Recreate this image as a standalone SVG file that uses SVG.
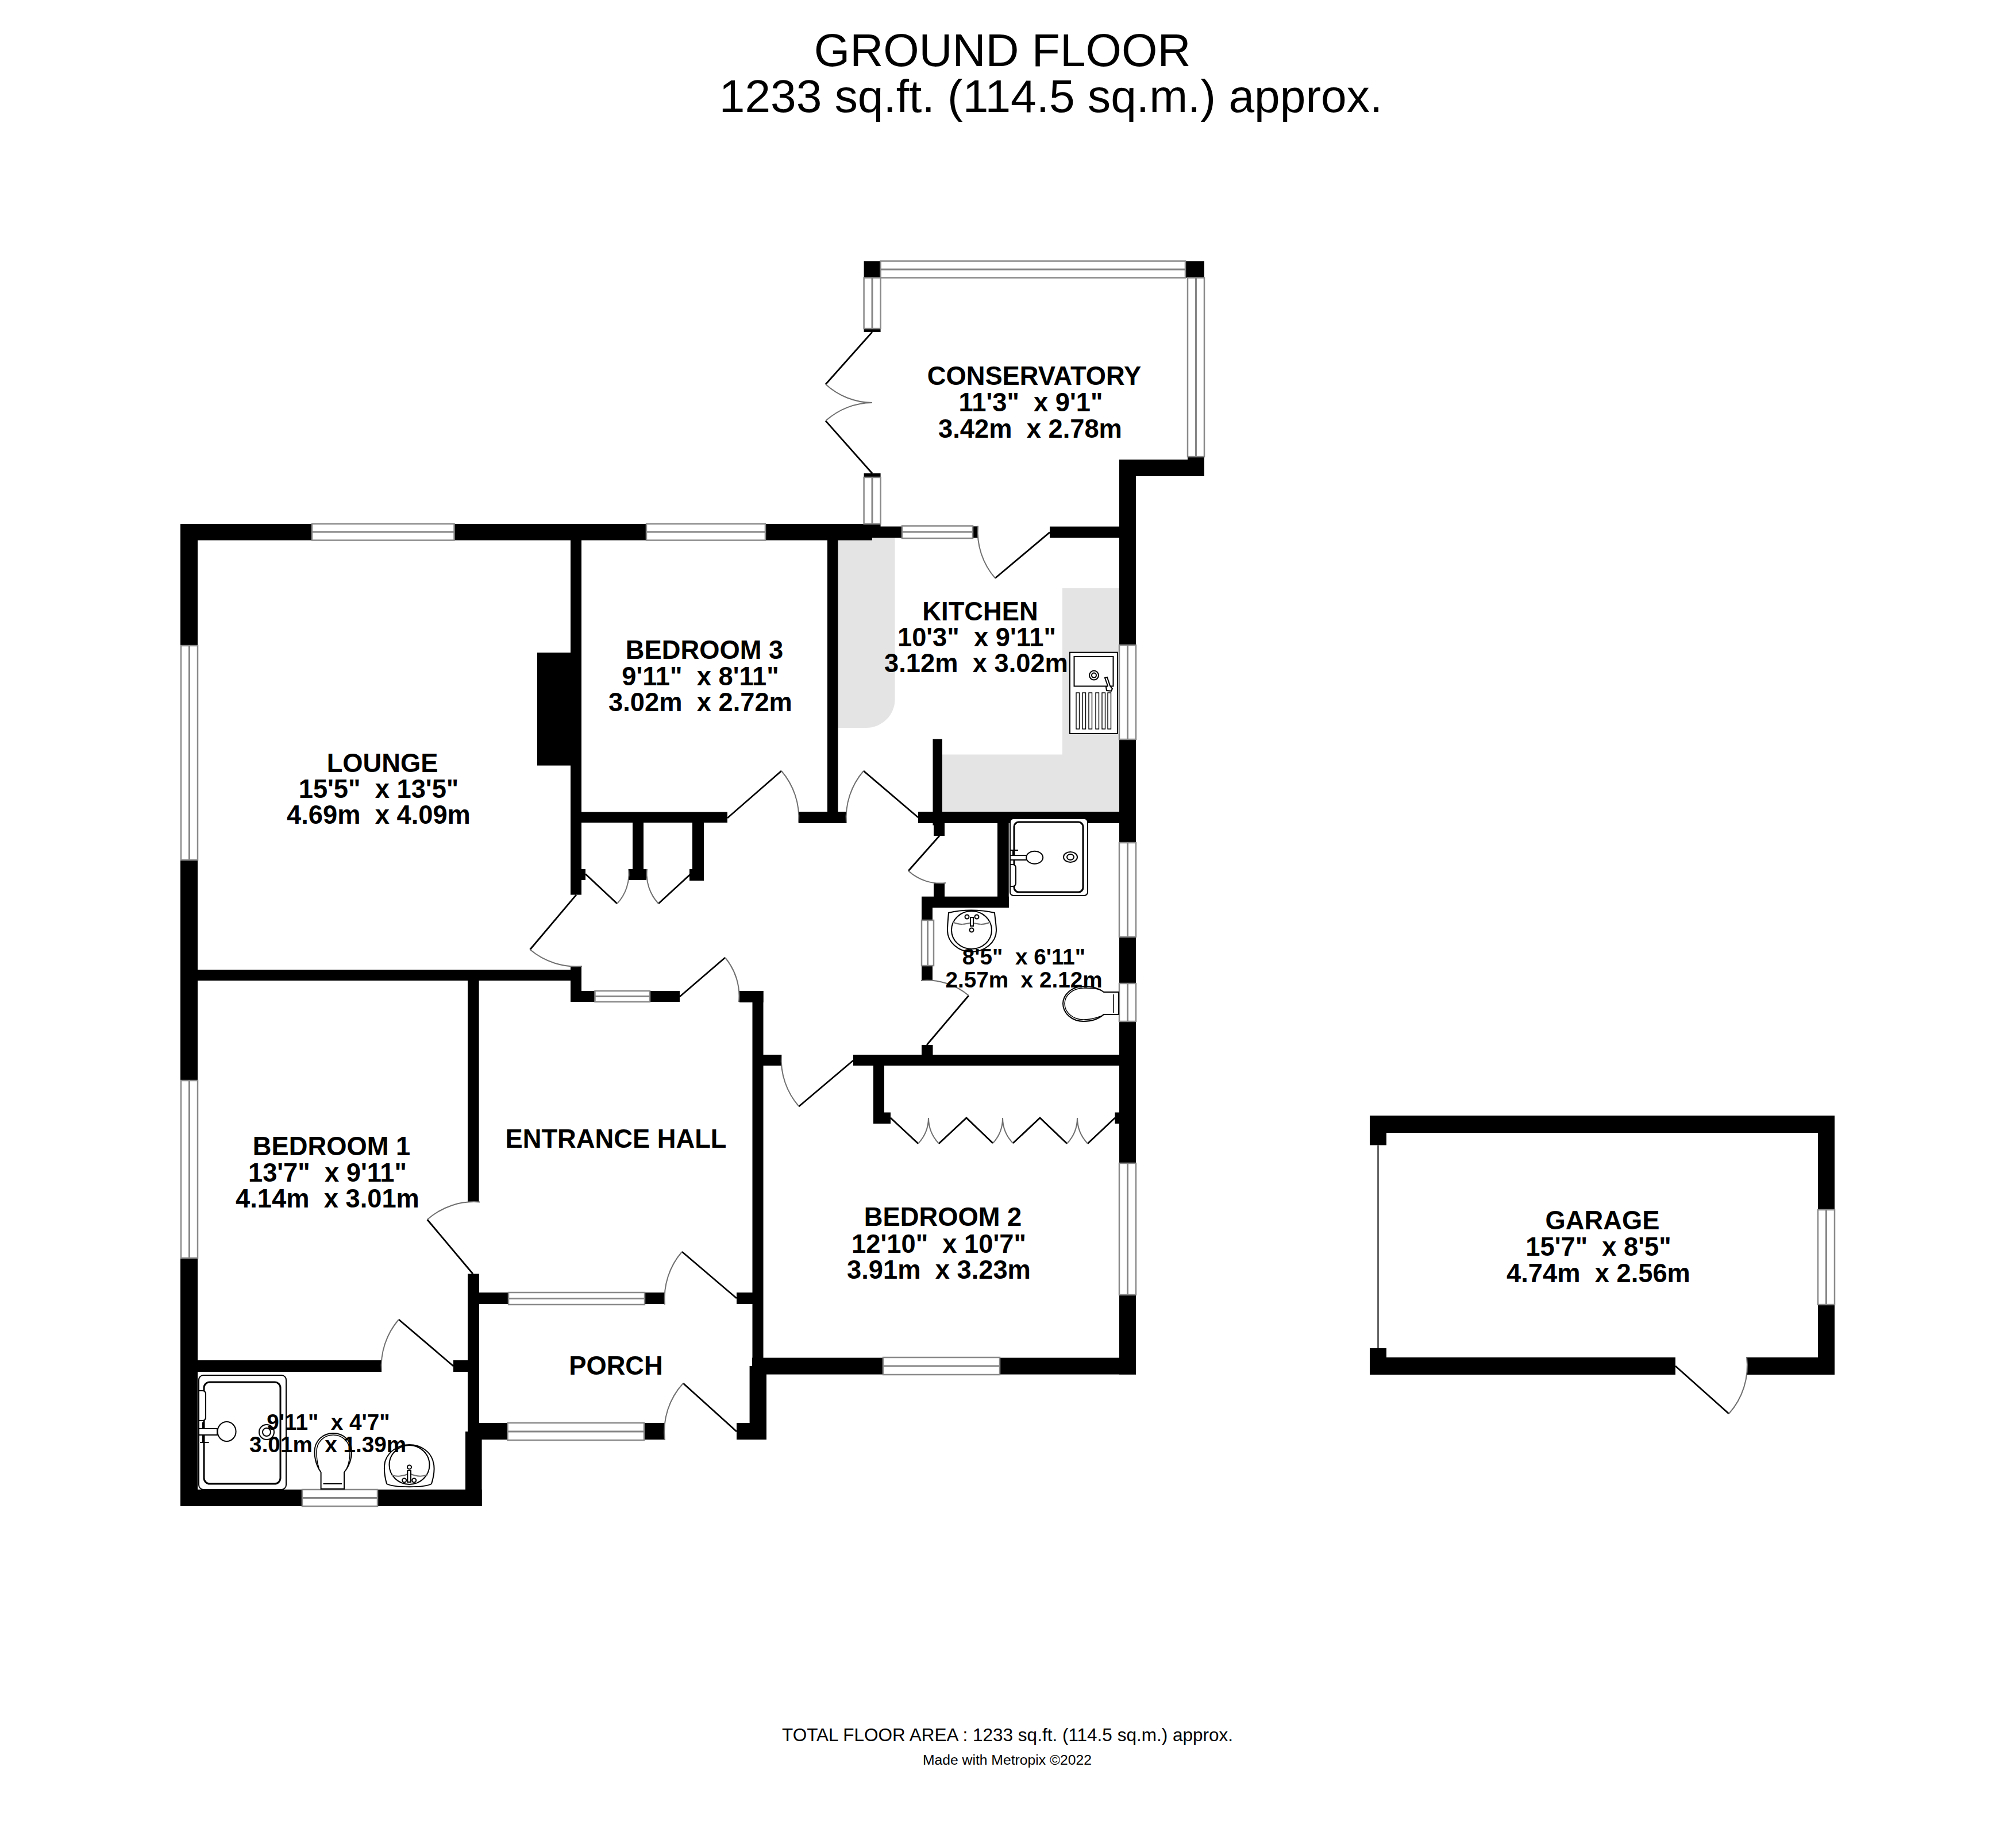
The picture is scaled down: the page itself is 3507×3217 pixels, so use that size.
<svg xmlns="http://www.w3.org/2000/svg" width="3507" height="3217" viewBox="0 0 3507 3217" xml:space="preserve">
<style>
.w{fill:#000}
.win{fill:#fff;stroke:#8a8a8a;stroke-width:2.5}
.mid{fill:none;stroke:#868686;stroke-width:3}
.leaf{fill:none;stroke:#000;stroke-width:2.8}
.arc{fill:none;stroke:#707070;stroke-width:2}
.wt{fill:#e4e4e4}
.fx{fill:#fff;stroke:#000;stroke-width:2}
.fl{fill:none;stroke:#000;stroke-width:2}
.fh{fill:#fff;stroke:#000;stroke-width:3}
text{font-family:"Liberation Sans",Arial,sans-serif;fill:#000;text-anchor:middle;white-space:pre}
.rm{font-weight:bold;font-size:45.3px}
.rs{font-weight:bold;font-size:38.7px}
.ti{font-size:80.3px}
</style>
<rect width="3507" height="3217" fill="#fff"/>
<g id="worktops">
<path class="wt" d="M1458.5,936H1557.6V1217A50,50 0 0 1 1507.6,1267H1458.5Z"/>
<path class="wt" d="M1849,1024H1948V1413H1640V1313.6H1849Z"/>
</g>
<g id="walls">
<path class="w" d="M314,912H1532.6V916.6H1702V936H1518V940.5H344V2593H838.6V2622H314Z"/>
<rect class="w" x="993" y="912" width="19" height="645.6"/>
<rect class="w" x="935" y="1136" width="58" height="196.6"/>
<rect class="w" x="314" y="1688" width="698" height="19"/>
<rect class="w" x="993" y="1682" width="19" height="62"/>
<rect class="w" x="993" y="1725" width="190" height="19"/>
<rect class="w" x="993" y="1413.5" width="273" height="18.5"/>
<rect class="w" x="1012" y="1513" width="7" height="19"/>
<rect class="w" x="1101" y="1431" width="19" height="101"/>
<rect class="w" x="1094" y="1513" width="31" height="19"/>
<rect class="w" x="1205" y="1431" width="20" height="102"/>
<rect class="w" x="1200" y="1513" width="25" height="20"/>
<rect class="w" x="1287" y="1725" width="41.500" height="20"/>
<rect class="w" x="1309.500" y="1725" width="19" height="667"/>
<rect class="w" x="1328" y="1836" width="32" height="19"/>
<rect class="w" x="1485" y="1836" width="463" height="19"/>
<rect class="w" x="1520" y="1855" width="19" height="101"/>
<rect class="w" x="1520" y="1936.500" width="30" height="19.500"/>
<rect class="w" x="1940.500" y="1936.500" width="8" height="19.500"/>
<rect class="w" x="1948" y="800" width="29" height="1592.600"/>
<rect class="w" x="1309" y="2363.600" width="668" height="29"/>
<rect class="w" x="1304.600" y="2378" width="29.400" height="128"/>
<rect class="w" x="1282" y="2477" width="52" height="29"/>
<rect class="w" x="1282" y="2250" width="46" height="20"/>
<rect class="w" x="834" y="2250" width="323" height="20"/>
<rect class="w" x="834" y="2477" width="323" height="29"/>
<rect class="w" x="814" y="1707" width="19.600" height="385.500"/>
<rect class="w" x="814" y="2217.500" width="20" height="274.500"/>
<rect class="w" x="810" y="2492" width="28.600" height="130"/>
<rect class="w" x="344" y="2368" width="320" height="20"/>
<rect class="w" x="789" y="2368" width="26" height="20"/>
<rect class="w" x="1827" y="916.600" width="121" height="19.400"/>
<rect class="w" x="1693" y="916.600" width="9" height="19.400"/>
<rect class="w" x="1948" y="800" width="148" height="29"/>
<rect class="w" x="2067" y="795" width="29" height="34"/>
<rect class="w" x="1503.600" y="454.500" width="29" height="29"/>
<rect class="w" x="2063" y="454.500" width="33" height="29"/>
<rect class="w" x="1503.600" y="572" width="29" height="6"/>
<rect class="w" x="1503.600" y="824" width="29" height="7"/>
<rect class="w" x="1440" y="936" width="18.500" height="497"/>
<rect class="w" x="1390" y="1413" width="82.600" height="20"/>
<rect class="w" x="1598" y="1413" width="350" height="20"/>
<rect class="w" x="1623.500" y="1286.600" width="16.500" height="150"/>
<rect class="w" x="1625" y="1433" width="19" height="22"/>
<rect class="w" x="1625" y="1538" width="19" height="23"/>
<rect class="w" x="1604" y="1560.700" width="151.700" height="19.300"/>
<rect class="w" x="1736" y="1432" width="19.700" height="148"/>
<rect class="w" x="1604" y="1561" width="19" height="146"/>
<rect class="w" x="1604" y="1819" width="19.500" height="17"/>
</g>
<g id="garage-walls">
<path class="w" d="M2384,1942H3193V2393H3040V2363H3164V1972H2413V1993.600H2384Z"/>
<path class="w" d="M2384,2347H2413V2363H2916V2393H2384Z"/>
</g>
<g id="windows">
<g id="win-lounge-n"><rect class="win" x="543" y="912" width="247.500" height="28.500"/><path class="mid" d="M543,926H790.500"/></g>
<g id="win-bed3-n"><rect class="win" x="1125" y="912" width="207" height="28.500"/><path class="mid" d="M1125,926H1332"/></g>
<g id="win-kitchen-n"><rect class="win" x="1570" y="915.500" width="123" height="21.500"/><path class="mid" d="M1570,926H1693"/></g>
<g id="win-hall-n"><rect class="win" x="1035.500" y="1725" width="95.500" height="19"/><path class="mid" d="M1035.500,1734.500H1131"/></g>
<g id="win-porch-n"><rect class="win" x="885" y="2250" width="237" height="21"/><path class="mid" d="M885,2260.500H1122"/></g>
<g id="win-porch-s"><rect class="win" x="883.500" y="2477" width="237.500" height="30"/><path class="mid" d="M883.500,2492H1121"/></g>
<g id="win-bath-s"><rect class="win" x="526" y="2593" width="131" height="29"/><path class="mid" d="M526,2607.500H657"/></g>
<g id="win-bed2-s"><rect class="win" x="1537" y="2363" width="203" height="30"/><path class="mid" d="M1537,2378H1740"/></g>
<g id="win-cons-n"><rect class="win" x="1532.600" y="454.500" width="530.400" height="29"/><path class="mid" d="M1532.600,469H2063"/></g>
<g id="win-lounge-w"><rect class="win" x="315" y="1124" width="29" height="373"/><path class="mid" d="M329.500,1124V1497"/></g>
<g id="win-bed1-w"><rect class="win" x="315" y="1881" width="29" height="309"/><path class="mid" d="M329.500,1881V2190"/></g>
<g id="win-cons-w1"><rect class="win" x="1503.600" y="483.500" width="29" height="88.500"/><path class="mid" d="M1518,483.500V572"/></g>
<g id="win-cons-w2"><rect class="win" x="1503.600" y="831" width="29" height="81"/><path class="mid" d="M1518,831V912"/></g>
<g id="win-cons-e"><rect class="win" x="2067" y="483.500" width="29" height="311.500"/><path class="mid" d="M2081.500,483.500V795"/></g>
<g id="win-kitchen-e"><rect class="win" x="1948" y="1123" width="29" height="164"/><path class="mid" d="M1962.500,1123V1287"/></g>
<g id="win-shower-e1"><rect class="win" x="1948" y="1467" width="29" height="164"/><path class="mid" d="M1962.500,1467V1631"/></g>
<g id="win-shower-e2"><rect class="win" x="1948" y="1712" width="29" height="66"/><path class="mid" d="M1962.500,1712V1778"/></g>
<g id="win-bed2-e"><rect class="win" x="1948" y="2025" width="29" height="229"/><path class="mid" d="M1962.500,2025V2254"/></g>
<g id="win-shower-w"><rect class="win" x="1604" y="1602" width="21" height="79"/><path class="mid" d="M1614.500,1602V1681"/></g>
<g id="win-garage-e"><rect class="win" x="3164" y="2106" width="29" height="165"/><path class="mid" d="M3178.500,2106V2271"/></g>
</g>
<g id="doors">
<g id="door-cons-1"><path class="leaf" d="M1518,578L1437,669"/><path class="arc" d="M1437,669A122,122 0 0 0 1518,701"/></g>
<g id="door-cons-2"><path class="leaf" d="M1518,824L1437,732.600"/><path class="arc" d="M1437,732.600A122,122 0 0 1 1518,701"/></g>
<g id="door-kitchen-n"><path class="leaf" d="M1827,926.600L1732,1006.500"/><path class="arc" d="M1732,1006.500A124,124 0 0 1 1702,915.500"/></g>
<g id="door-bed3"><path class="leaf" d="M1266,1424L1360,1342"/><path class="arc" d="M1360,1342A125,125 0 0 1 1390,1432"/></g>
<g id="door-kitchen-s"><path class="leaf" d="M1598,1423L1503,1342"/><path class="arc" d="M1503,1342A125,125 0 0 0 1473,1433"/></g>
<g id="door-closet-a"><path class="leaf" d="M1019,1521.500L1074,1573"/><path class="arc" d="M1074,1573A75,75 0 0 0 1094,1513"/></g>
<g id="door-closet-b"><path class="leaf" d="M1202,1521.500L1146,1573"/><path class="arc" d="M1146,1573A76,76 0 0 1 1126,1513"/></g>
<g id="door-lounge"><path class="leaf" d="M1003,1557.600L922.500,1653"/><path class="arc" d="M922.500,1653A125,125 0 0 0 1013,1682"/></g>
<g id="door-hall"><path class="leaf" d="M1183,1735L1262,1667"/><path class="arc" d="M1262,1667A104,104 0 0 1 1286,1744"/></g>
<g id="door-cupboard"><path class="leaf" d="M1635,1455L1581,1516"/><path class="arc" d="M1581,1516A82,82 0 0 0 1646,1537"/></g>
<g id="door-shower"><path class="leaf" d="M1613,1819L1686,1733"/><path class="arc" d="M1686,1733A113,113 0 0 0 1603,1707"/></g>
<g id="door-bed2"><path class="leaf" d="M1485,1846L1390.500,1926"/><path class="arc" d="M1390.500,1926A124,124 0 0 1 1360,1836"/></g>
<g id="door-bed1"><path class="leaf" d="M823,2217.500L743.600,2123"/><path class="arc" d="M743.600,2123A123,123 0 0 1 835,2092.500"/></g>
<g id="door-ensuite"><path class="leaf" d="M789,2378L694,2297"/><path class="arc" d="M694,2297A125,125 0 0 0 664,2388"/></g>
<g id="door-porch-n"><path class="leaf" d="M1282,2260L1187,2179"/><path class="arc" d="M1187,2179A125,125 0 0 0 1157,2271"/></g>
<g id="door-porch-s"><path class="leaf" d="M1282,2492L1189,2408"/><path class="arc" d="M1189,2408A125,125 0 0 0 1157,2507"/></g>
<g id="door-garage"><path class="leaf" d="M2916,2378L3009,2461"/><path class="arc" d="M3009,2461A125,125 0 0 0 3040,2362"/></g>
<g id="door-wardrobe">
<path class="leaf" d="M1550,1946L1598,1990.700M1634,1990.700L1682,1946L1728,1990M1763,1990L1810,1946L1857,1990.700M1893,1990.700L1940.500,1946"/>
<path class="arc" d="M1598,1990.700A66,66 0 0 0 1616,1946A66,66 0 0 0 1634,1990.700M1728,1990A64,64 0 0 0 1745,1946A64,64 0 0 0 1763,1990M1857,1990.700A65,65 0 0 0 1875,1946A65,65 0 0 0 1893,1990.700"/>
</g>
<path id="door-garage-up" d="M2398.500,1993.600V2347" fill="none" stroke="#666" stroke-width="3"/>
</g>
<g id="fixtures">
<g id="sink">
<rect class="fx" x="1862" y="1135.700" width="83" height="141.300" stroke-width="2.500"/>
<rect class="fl" x="1869.500" y="1143" width="68" height="51.500"/>
<circle class="fl" cx="1904" cy="1175.600" r="8"/><circle class="fl" cx="1904" cy="1175.600" r="4"/>
<path class="fx" d="M1923,1180L1927,1179L1932,1194L1936,1199L1934,1203L1926,1202L1925,1196L1928,1194Z"/>
<g class="fl" style="stroke-width:1.400"><rect x="1873" y="1206" width="5.500" height="63"/><rect x="1884" y="1206" width="5.500" height="63"/><rect x="1895" y="1206" width="5.500" height="63"/><rect x="1907" y="1206" width="5.500" height="63"/><rect x="1918" y="1206" width="5.500" height="63"/><rect x="1928" y="1206" width="5.500" height="63"/></g>
</g>
<g id="shower-a">
<rect class="fx" x="1758" y="1425" width="135" height="134" rx="6"/>
<rect class="fh" x="1765" y="1431" width="120" height="122" rx="8"/>
<path class="fx" d="M1758,1505H1762Q1768,1505 1768,1511V1537Q1768,1543 1762,1543H1758Z"/>
<rect class="fx" x="1758" y="1489" width="29" height="8"/>
<ellipse class="fx" cx="1800.700" cy="1492.700" rx="14.500" ry="11"/>
<ellipse class="fx" cx="1863" cy="1492" rx="12" ry="9"/><ellipse class="fl" cx="1863" cy="1492" rx="6" ry="5"/>
<path class="fl" d="M1758,1480H1772M1763,1480V1489M1758,1497V1505"/>
</g>
<g id="basin-a">
<path class="fx" d="M1651,1589C1650,1600 1649,1610 1649,1620C1649,1640 1668,1657 1691,1657C1714,1657 1734,1640 1734,1620C1734,1610 1732,1600 1731,1589C1705,1583 1675,1583 1651,1589Z"/>
<ellipse class="fl" cx="1691" cy="1619" rx="35" ry="33"/>
<path class="arc" d="M1658,1605C1670,1611 1680,1609 1691,1606C1702,1609 1712,1611 1724,1605"/>
<rect class="fx" x="1689" y="1597" width="5" height="15"/>
<circle class="fx" cx="1683" cy="1596" r="3.500"/><circle class="fx" cx="1700" cy="1596" r="3.500"/><circle class="fx" cx="1691" cy="1619" r="3.500"/>
</g>
<g id="wc-a">
<path class="fx" d="M1947,1727H1921C1912,1720 1900,1717 1886,1717C1866,1717 1850,1731 1850,1747C1850,1764 1866,1778 1886,1778C1900,1778 1912,1774 1921,1766H1947Z"/>
<path class="fl" d="M1916,1724C1908,1720 1897,1720 1886,1720C1868,1720 1853,1732 1853,1747C1853,1763 1868,1775 1886,1775C1897,1775 1908,1772 1916,1769M1938,1731V1763" style="stroke-width:1.500"/>
</g>
<g id="shower-b">
<rect class="fx" x="346" y="2394" width="152" height="199" rx="8"/>
<rect class="fh" x="355" y="2406" width="133" height="177" rx="10"/>
<path class="fx" d="M346,2421H352Q358,2421 358,2427V2467Q358,2473 352,2473H346Z"/>
<rect class="fx" x="346" y="2487" width="32" height="11"/>
<ellipse class="fx" cx="394.600" cy="2492" rx="16" ry="17"/>
<circle class="fx" cx="464" cy="2493" r="13"/><circle class="fl" cx="464" cy="2493" r="7"/>
<path class="fl" d="M348,2511H363.600M353,2498V2511M353,2476V2487"/>
</g>
<g id="wc-b">
<path class="fx" d="M558.600,2592V2563C548,2548 547.500,2535 547.500,2527C547.500,2508 562,2495 580,2495C598,2495 612,2508 612,2527C612,2535 611,2548 599,2563V2592Z"/>
<path class="fl" d="M555,2555C551,2545 551,2535 551,2527C551,2510 564,2498 580,2498C596,2498 609,2510 609,2527C609,2535 608,2546 604,2555" style="stroke-width:1.500"/>
<path class="fl" d="M562.500,2583H595"/>
</g>
<g id="basin-b">
<path class="fx" d="M673,2583C668,2565 668,2555 670,2545C675,2527 693,2515 712.500,2515C732,2515 750,2527 754,2545C757,2555 755,2570 751,2583C740,2590 685,2590 673,2583Z"/>
<ellipse class="fl" cx="712.500" cy="2550" rx="35" ry="34"/>
<path class="arc" d="M682,2568C690,2571 702,2570 712.500,2565C723,2570 735,2571 744.600,2567"/>
<rect class="fx" x="709.300" y="2560" width="5.700" height="20"/>
<circle class="fx" cx="703.600" cy="2577" r="3.500"/><circle class="fx" cx="720.700" cy="2577" r="3.500"/><circle class="fx" cx="712.500" cy="2554" r="3.500"/>
</g>
</g>
<g id="room-conservatory"><text class="rm" x="1800" y="670">CONSERVATORY</text><text class="rm" x="1794" y="716">11'3"  x 9'1"</text><text class="rm" x="1793" y="762">3.42m  x 2.78m</text></g>
<g id="room-kitchen"><text class="rm" x="1706" y="1080">KITCHEN</text><text class="rm" x="1700" y="1125">10'3"  x 9'11"</text><text class="rm" x="1699" y="1170">3.12m  x 3.02m</text></g>
<g id="room-lounge"><text class="rm" x="665.600" y="1343.500">LOUNGE</text><text class="rm" x="659" y="1389">15'5"  x 13'5"</text><text class="rm" x="659" y="1434">4.69m  x 4.09m</text></g>
<g id="room-bedroom3"><text class="rm" x="1226" y="1147">BEDROOM 3</text><text class="rm" x="1219" y="1193">9'11"  x 8'11"</text><text class="rm" x="1219" y="1238">3.02m  x 2.72m</text></g>
<g id="room-bedroom1"><text class="rm" x="577" y="2011">BEDROOM 1</text><text class="rm" x="570" y="2057">13'7"  x 9'11"</text><text class="rm" x="570" y="2102">4.14m  x 3.01m</text></g>
<g id="room-hall"><text class="rm" x="1072" y="1998">ENTRANCE HALL</text></g>
<g id="room-porch"><text class="rm" x="1072" y="2393">PORCH</text></g>
<g id="room-bedroom2"><text class="rm" x="1641" y="2134">BEDROOM 2</text><text class="rm" x="1634" y="2181">12'10"  x 10'7"</text><text class="rm" x="1634" y="2226">3.91m  x 3.23m</text></g>
<g id="room-shower"><text class="rs" x="1782" y="1679">8'5"  x 6'11"</text><text class="rs" x="1782" y="1719">2.57m  x 2.12m</text></g>
<g id="room-ensuite"><text class="rs" x="571.500" y="2489">9'11"  x 4'7"</text><text class="rs" x="570.700" y="2528">3.01m  x 1.39m</text></g>
<g id="room-garage"><text class="rm" x="2789" y="2140">GARAGE</text><text class="rm" x="2782" y="2186">15'7"  x 8'5"</text><text class="rm" x="2782" y="2232">4.74m  x 2.56m</text></g>
<g id="title"><text class="ti" x="1744.600" y="115">GROUND FLOOR</text><text class="ti" x="1829" y="195">1233 sq.ft. (114.5 sq.m.) approx.</text></g>
<g id="footer"><text x="1753.500" y="3030.500" font-size="31.500">TOTAL FLOOR AREA : 1233 sq.ft. (114.5 sq.m.) approx.</text><text x="1753" y="3072" font-size="24.700">Made with Metropix ©2022</text></g>
</svg>
